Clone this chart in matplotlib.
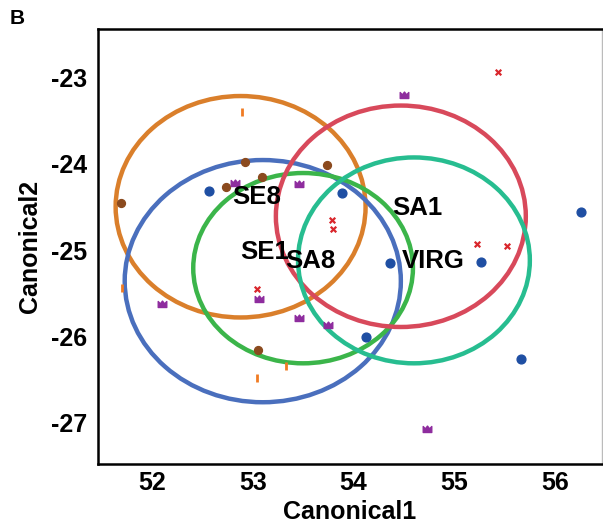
import matplotlib
matplotlib.use("Agg")
import matplotlib.pyplot as plt
from matplotlib.patches import Ellipse
from matplotlib.path import Path

plt.rcParams['font.family'] = ['Liberation Sans', 'DejaVu Sans']

# Group ellipses (center x, center y, width, height)
ell_names = ["SE8", "SE1", "SA8", "SA1", "VIRG"]
ell_cx = [52.88, 53.10, 53.50, 54.47, 54.60]
ell_cy = [-24.50, -25.36, -25.21, -24.61, -25.12]
ell_w = [2.48, 2.74, 2.18, 2.48, 2.30]
ell_h = [2.56, 2.80, 2.20, 2.56, 2.38]
ell_colors = ["#DA7F2B", "#4A6FBD", "#3BB54A", "#D8495B", "#27BD90"]

# Group labels
lab_x = [53.04, 53.12, 53.57, 54.63, 54.79]
lab_y = [-24.39, -25.02, -25.13, -24.51, -25.13]

# Points
orange_x = [52.892, 51.703, 53.328, 53.041]
orange_y = [-23.405, -25.440, -26.341, -26.480]

brown_x = [51.693, 52.922, 53.090, 52.733, 53.734, 53.051]
brown_y = [-24.457, -23.983, -24.156, -24.272, -24.017, -26.156]

purple_x = [52.823, 53.457, 54.497, 52.099, 53.060, 53.457, 53.744, 54.725]
purple_y = [-24.225, -24.237, -23.208, -25.624, -25.566, -25.786, -25.867, -27.069]

red_x = [55.439, 53.784, 53.794, 55.221, 55.528, 53.041]
red_y = [-22.942, -24.653, -24.757, -24.931, -24.954, -25.451]

blue_x = [52.565, 53.883, 56.262, 54.359, 55.261, 54.121, 55.667]
blue_y = [-24.318, -24.341, -24.561, -25.150, -25.139, -26.006, -26.260]

xticks = [52, 53, 54, 55, 56]
yticks = [-23, -24, -25, -26, -27]

fig = plt.figure(figsize=(6.03, 5.23), dpi=100)
ax = fig.add_axes([98/603, 1 - 464/523, (602 - 98)/603, (464 - 29)/523])

for cx, cy, w, h, c in zip(ell_cx, ell_cy, ell_w, ell_h, ell_colors):
    ax.add_patch(Ellipse((cx, cy), w, h, fill=False, edgecolor=c, lw=3.2, zorder=2))

crown = Path([(-1, -0.7), (1, -0.7), (1, 0.7), (0.5, 0.15), (0, 0.8),
              (-0.5, 0.15), (-1, 0.7), (-1, -0.7)],
             [Path.MOVETO] + [Path.LINETO] * 6 + [Path.CLOSEPOLY])

ax.scatter(orange_x, orange_y, marker='|', s=40, color='#F07B23', linewidths=2.0, zorder=3)
ax.scatter(brown_x, brown_y, marker='o', s=32, color='#8B4A1E', zorder=3)
ax.scatter(purple_x, purple_y, marker=crown, s=38, color='#8E2C9E', zorder=3)
ax.scatter(red_x, red_y, marker='x', s=16, color='#D9262C', linewidths=1.6, zorder=3)
ax.scatter(blue_x, blue_y, marker='o', s=40, color='#1F4FA3', zorder=3)

for name, x, y in zip(ell_names, lab_x, lab_y):
    ax.text(x, y, name, fontsize=18.5, fontweight='bold', ha='center', va='center', zorder=4)

ax.set_xlim(51.465, 56.466)
ax.set_ylim(-27.474, -22.445)
ax.set_xticks(xticks)
ax.set_yticks(yticks)
ax.set_xticklabels([str(t) for t in xticks], fontsize=18, fontweight='bold')
ax.set_yticklabels([str(t) for t in yticks], fontsize=18, fontweight='bold')
ax.tick_params(axis='both', length=0)
ax.tick_params(axis='x', pad=5)
ax.tick_params(axis='y', pad=8)
ax.set_xlabel("Canonical1", fontsize=18, fontweight='bold', labelpad=3.5)
ax.set_ylabel("Canonical2", fontsize=18, fontweight='bold', labelpad=6)

for s in ['left', 'bottom', 'top']:
    ax.spines[s].set_color('black')
    ax.spines[s].set_linewidth(1.8)
ax.spines['right'].set_color('#BBBBBB')
ax.spines['right'].set_linewidth(1.0)

fig.text(10/603, 1 - 18/523, "B", fontsize=15, fontweight='bold', ha='left', va='center')

fig.savefig("out.png", dpi=100)
